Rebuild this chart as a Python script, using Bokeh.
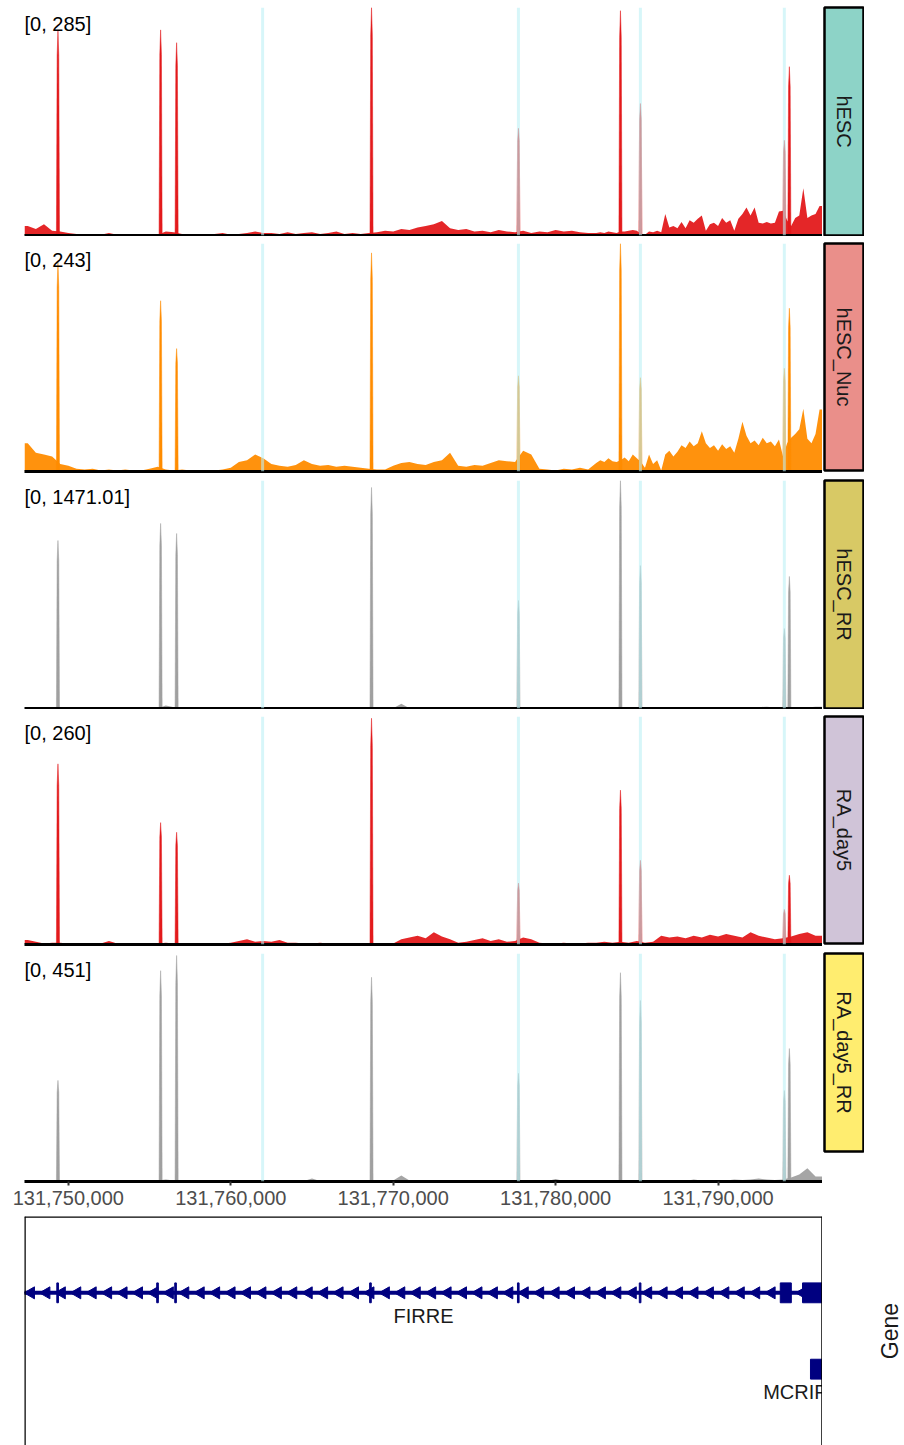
import numpy as np
from bokeh.plotting import figure
from bokeh.models import Range1d, Span, Label, FixedTicker, NumeralTickFormatter
from bokeh.layouts import column, row
from bokeh.embed import file_html
from bokeh.resources import INLINE
from bokeh.core.properties import value

FONT = "Liberation Sans"

# ---------------- data ----------------
X_START, X_END = 131747300, 131796430
x_ticks = [131750000, 131760000, 131770000, 131780000, 131790000]

track_names = ["hESC", "hESC_Nuc", "hESC_RR", "RA_day5", "RA_day5_RR"]
track_max = [285, 243, 1471.01, 260, 451]
track_max_labels = ["[0, 285]", "[0, 243]", "[0, 1471.01]", "[0, 260]", "[0, 451]"]
track_colors = ["#E31A1C", "#FF8C00", "#A0A0A0", "#E31A1C", "#A0A0A0"]
strip_colors = ["#8DD3C7", "#EA8F8A", "#D8C965", "#D0C4D8", "#FFED6F"]

# coarse signal bins (500 bp) from 131,747,500
bin_start = 131747500
bin_size = 500
# fine signal bins (250 bp) from 131,782,500 (used where the signal is dense)
fine_start = 131782500
fine_size = 250

noise_hESC = [12, 8, 14, 6, 5, 3, 2, 1, 2, 1,
              3, 1, 2, 2, 1, 2, 1, 5, 4, 2,
              1, 2, 1, 2, 3, 1, 2, 3, 5, 3,
              3, 2, 4, 2, 3, 4, 2, 3, 5, 2,
              3, 2, 3, 4, 6, 5, 8, 7, 10, 12,
              14, 18, 9, 7, 8, 5, 6, 4, 7, 5,
              4, 6, 3, 5, 4, 7, 5, 6, 4, 3]
noise_hESC_fine = [3, 4, 3, 5, 4, 3, 5, 5, 6, 7,
                   6, 2, 1, 5, 4, 6, 4, 27, 10, 12,
                   9, 17, 9, 19, 16, 21, 25, 6, 14, 16,
                   12, 22, 16, 19, 6, 21, 27, 35, 25, 35,
                   16, 15, 17, 15, 16, 30, 31, 19, 12, 22,
                   25, 59, 22, 25, 27, 37]
noise_hESC_Nuc = [30, 20, 18, 16, 8, 6, 3, 2, 3, 1,
                  2, 1, 2, 1, 1, 3, 5, 2, 1, 2,
                  1, 0, 1, 1, 2, 4, 10, 12, 18, 14,
                  8, 6, 5, 7, 12, 8, 6, 7, 5, 6,
                  5, 4, 3, 2, 2, 6, 9, 10, 8, 7,
                  10, 12, 20, 6, 5, 7, 6, 9, 12, 11,
                  10, 22, 18, 3, 2, 1, 3, 2, 4, 2]
noise_hESC_Nuc_fine = [9, 12, 10, 14, 11, 10, 12, 15, 11, 18,
                       14, 10, 4, 18, 8, 12, 1, 18, 22, 16,
                       21, 28, 25, 32, 27, 30, 43, 30, 25, 28,
                       22, 29, 24, 27, 20, 35, 53, 38, 30, 33,
                       28, 36, 30, 32, 27, 34, 16, 30, 36, 40,
                       45, 67, 35, 30, 40, 66]
noise_hESC_RR = [2, 1, 1, 1, 2, 1, 1, 0, 1, 1,
                 1, 0, 1, 1, 1, 1, 2, 20, 8, 2,
                 1, 1, 1, 0, 1, 1, 2, 1, 1, 2,
                 1, 1, 1, 2, 1, 1, 1, 1, 2, 1,
                 1, 1, 2, 1, 1, 2, 30, 2, 1, 1,
                 1, 2, 1, 1, 2, 1, 1, 2, 1, 1,
                 2, 1, 1, 2, 1, 1, 1, 1, 2, 1,
                 1, 1, 2, 1, 2, 1, 1, 2, 1, 2,
                 2, 1, 3, 2, 2, 3, 2, 4, 3, 5,
                 8, 12, 6, 4, 8, 10, 6, 12]
noise_RA_day5 = [5, 3, 1, 2, 2, 1, 0, 1, 1, 1,
                 4, 1, 1, 1, 0, 1, 1, 2, 1, 1,
                 0, 1, 1, 1, 1, 2, 4, 6, 3, 4,
                 3, 5, 2, 2, 1, 1, 2, 1, 1, 1,
                 1, 1, 1, 1, 1, 1, 6, 8, 10, 7,
                 14, 9, 6, 2, 3, 5, 7, 4, 6, 3,
                 4, 8, 6, 2, 1, 1, 2, 1, 1, 2,
                 2, 3, 2, 3, 2, 4, 2, 3, 10, 8,
                 9, 7, 10, 8, 11, 9, 12, 10, 8, 14,
                 10, 8, 6, 7, 9, 12, 14, 10]
noise_RA_day5_RR = [2, 1, 1, 1, 2, 1, 1, 0, 1, 1,
                    1, 0, 1, 1, 1, 1, 2, 4, 2, 1,
                    1, 1, 1, 0, 1, 1, 2, 1, 1, 3,
                    1, 1, 1, 2, 1, 6, 1, 1, 2, 1,
                    1, 1, 2, 1, 1, 2, 12, 2, 1, 1,
                    1, 2, 1, 1, 2, 1, 1, 2, 1, 1,
                    2, 1, 1, 2, 1, 5, 1, 1, 2, 1,
                    1, 1, 2, 1, 2, 1, 1, 2, 1, 2,
                    2, 1, 4, 2, 2, 3, 2, 4, 3, 4,
                    6, 4, 3, 4, 8, 14, 26, 10]
track_noise = [noise_hESC, noise_hESC_Nuc, noise_hESC_RR, noise_RA_day5, noise_RA_day5_RR]
track_noise_fine = [noise_hESC_fine, noise_hESC_Nuc_fine, [], [], []]

peak_pos = [131749360, 131755680, 131756665, 131768665, 131777710,
            131783990, 131785220, 131794080, 131794390]
peaks_hESC = [256, 257, 241, 285, 134, 281, 165, 119, 211]
peaks_hESC_Nuc = [223, 182, 131, 233, 102, 243, 100, 110, 174]
peaks_hESC_RR = [1084, 1194, 1129, 1426, 697, 1471, 922, 516, 852]
peaks_RA_day5 = [206, 139, 128, 258, 70, 176, 96, 40, 79]
peaks_RA_day5_RR = [200, 417, 447, 404, 214, 413, 358, 180, 263]
track_peaks = [peaks_hESC, peaks_hESC_Nuc, peaks_hESC_RR, peaks_RA_day5, peaks_RA_day5_RR]

highlight_pos = [131761960, 131777710, 131785220, 131794080]

# gene track
gene_names = ["FIRRE", "MCRIP1"]
gene_start = [131688779, 131795690]
gene_end = [131830643, 131830000]
gene_row = [2, 1]
gene_label_x = [131771865, 131795105]
exon_gene_row = [2, 2, 2, 2, 2, 2, 2, 2, 1]
exon_start = [131749290, 131755440, 131756550, 131768550, 131777650, 131785150, 131793830, 131795200, 131795690]
exon_end = [131749390, 131755540, 131756650, 131768650, 131777750, 131785250, 131794510, 131797000, 131797000]
gene_panel_title = ["Gene"]

# ---------------- layout ----------------
x_range = Range1d(X_START, X_END)
fig_heights = [236, 237, 236, 237, 266]
FRAME_H = 228


def style_common(p):
    p.outline_line_color = None
    p.xgrid.visible = False
    p.ygrid.visible = False
    p.yaxis.visible = False
    p.background_fill_color = "white"
    p.border_fill_color = "white"


rows = []
for k in range(5):
    last = (k == 4)
    H = fig_heights[k]
    bottom = H - 7 - FRAME_H
    p = figure(width=822, height=H, x_range=x_range, y_range=Range1d(0, track_max[k]),
               output_backend="svg", toolbar_location=None,
               min_border_left=24, min_border_right=0, min_border_top=7, min_border_bottom=bottom)
    style_common(p)

    coarse = track_noise[k]
    fine = track_noise_fine[k]
    nx = [X_START] + [bin_start + bin_size * i for i in range(len(coarse))]
    ny = [coarse[0]] + list(coarse)
    nx += [fine_start + fine_size * j for j in range(len(fine))]
    ny += list(fine)
    nx.append(X_END)
    ny.append(ny[-1])
    p.varea(x=nx, y1=0, y2=ny, fill_color=track_colors[k], fill_alpha=0.95)

    xs, ys = [], []
    for c, h in zip(peak_pos, track_peaks[k]):
        xs.append([c - 95, c - 50, c, c + 50, c + 95])
        ys.append([0, 0.88 * h, h, 0.88 * h, 0])
    p.patches(xs=xs, ys=ys, fill_color=track_colors[k], line_color=track_colors[k], line_width=0.5)

    for hp in highlight_pos:
        p.add_layout(Span(location=hp, dimension="height", line_color="#BDF0F5",
                          line_alpha=0.6, line_width=3))

    p.add_layout(Label(x=X_START, y=track_max[k], text=track_max_labels[k],
                       text_font=FONT, text_font_size="20px", text_color="black",
                       text_align="left", text_baseline="top", y_offset=-5))

    ax = p.xaxis[0]
    ax.axis_line_width = 3
    ax.axis_line_color = "black"
    ax.minor_tick_line_color = None
    ax.minor_tick_out = 0
    if last:
        ax.ticker = FixedTicker(ticks=x_ticks)
        ax.formatter = NumeralTickFormatter(format="0,0")
        ax.major_tick_out = 4
        ax.major_tick_in = 0
        ax.major_tick_line_width = 2
        ax.major_tick_line_color = "#333333"
        ax.major_label_standoff = 5
        ax.major_label_text_font = FONT
        ax.major_label_text_font_size = "20px"
        ax.major_label_text_color = "#4D4D4D"
    else:
        ax.ticker = FixedTicker(ticks=[])
        ax.major_tick_out = 0
        ax.major_tick_in = 0
        ax.major_label_standoff = 0
        ax.major_label_text_font_size = "0px"

    s = figure(width=42, height=7 + FRAME_H + 1, x_range=Range1d(0, 1), y_range=Range1d(0, 1),
               output_backend="svg", toolbar_location=None,
               min_border_left=2, min_border_right=1, min_border_top=7, min_border_bottom=1)
    s.xaxis.visible = False
    s.yaxis.visible = False
    s.xgrid.visible = False
    s.ygrid.visible = False
    s.background_fill_color = strip_colors[k]
    s.outline_line_color = "black"
    s.outline_line_width = 2.5
    s.add_layout(Label(x=0.5, y=0.5, text=track_names[k], angle=-np.pi / 2,
                       text_font=FONT, text_font_size="20px", text_color="#1A1A1A",
                       text_align="center", text_baseline="middle"))
    rows.append(row(p, s))

# gene track
g = figure(width=822, height=233, x_range=x_range, y_range=Range1d(0, 3),
           output_backend="svg", toolbar_location=None,
           min_border_left=24, min_border_right=0, min_border_top=4, min_border_bottom=0)
style_common(g)
g.xaxis.visible = False
NAVY = "#000080"
g.segment(x0=[gene_start[0]], y0=[gene_row[0]], x1=[gene_end[0]], y1=[gene_row[0]],
          line_color=NAVY, line_width=4)
chev = np.arange(X_START + 400, X_END - 800, 950)
g.scatter(x=chev, y=[gene_row[0]] * len(chev), marker="triangle", angle=np.pi / 2,
          size=12, color=NAVY)
g.quad(left=exon_start, right=exon_end,
       bottom=[r - 0.13 for r in exon_gene_row], top=[r + 0.13 for r in exon_gene_row],
       fill_color=NAVY, line_color=NAVY, line_width=1)
g.text(x=gene_label_x, y=gene_row, text=gene_names, y_offset=23,
       text_font=value(FONT), text_font_size="20px", text_color="#1A1A1A",
       text_align="center", text_baseline="middle")
for loc, dim in [(X_START, "height"), (X_END, "height"), (3, "width")]:
    g.add_layout(Span(location=loc, dimension=dim, line_color="black", line_width=2.5))

# side panel holding the rotated "Gene" title
gs = figure(width=82, height=233, x_range=Range1d(0, 82), y_range=Range1d(0, 3),
            output_backend="svg", toolbar_location=None,
            min_border_left=0, min_border_right=0, min_border_top=4, min_border_bottom=0)
style_common(gs)
gs.xaxis.visible = False
gs.text(x=[67], y=[1.5], text=gene_panel_title, angle=np.pi / 2,
        text_font=value(FONT), text_font_size="23px", text_color="#1A1A1A",
        text_align="center", text_baseline="middle")

layout = column(*rows, row(g, gs))
open("out.html", "w").write(file_html(layout, INLINE))
